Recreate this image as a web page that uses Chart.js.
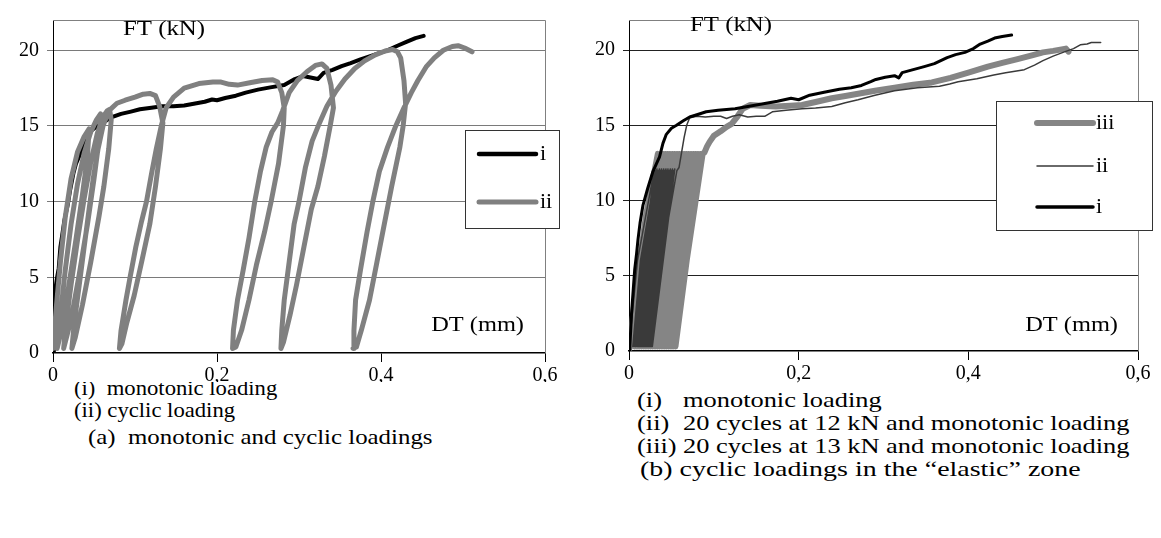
<!DOCTYPE html>
<html>
<head>
<meta charset="utf-8">
<title>FT-DT curves</title>
<script src="https://cdn.jsdelivr.net/npm/chart.js@4.4.1/dist/chart.umd.min.js"></script>
<style>
  body { margin: 0; background: #fff; }
  #page { position: relative; width: 1161px; height: 538px; overflow: hidden;
          font-family: "Liberation Serif", "Times New Roman", serif; color: #000; }
  #chartA, #chartB { position: absolute; top: 0; z-index: 2; }
  #chartA { left: 0; }
  #chartB { left: 580px; }
  .cap { position: absolute; z-index: 1; font-size: 22px; line-height: 22px; white-space: pre; transform-origin: 0 50%; }
  .wi { transform: scaleX(1.03); }
  .wa { transform: scaleX(1.13); }
  .wb { transform: scaleX(1.2); }
  .wt { transform: scaleX(1.27); }
</style>
</head>
<body>
<div id="page">
  <canvas id="chartA" width="580" height="382"></canvas>
  <canvas id="chartB" width="581" height="400"></canvas>

  <div class="cap wi" style="left:74px; top:377px">(i)  monotonic loading</div>
  <div class="cap wi" style="left:74px; top:399px">(ii) cyclic loading</div>
  <div class="cap wa" style="left:88px; top:426px">(a)  monotonic and cyclic loadings</div>

  <div class="cap wb" style="left:637px; top:389px">(i)</div>
  <div class="cap wb" style="left:683px; top:389px">monotonic loading</div>
  <div class="cap wb" style="left:637px; top:412px">(ii)</div>
  <div class="cap wb" style="left:683px; top:412px">20 cycles at 12 kN and monotonic loading</div>
  <div class="cap wb" style="left:637px; top:435px">(iii)</div>
  <div class="cap wb" style="left:683px; top:435px">20 cycles at 13 kN and monotonic loading</div>
  <div class="cap wt" style="left:640px; top:458px">(b) cyclic loadings in the “elastic” zone</div>
</div>

<script>
// tick labels (comma decimals)
const dtTicks = ['0', '0,2', '0,4', '0,6'];
const ftTicks = ['0', '5', '10', '15', '20'];

// (a) monotonic loading : [DT mm, FT kN]
const monoA = [
  [0, 0], [0.001, 1.5], [0.002, 3.9], [0.005, 5.0], [0.007, 5.6], [0.009, 7.0], [0.011, 7.7],
  [0.014, 8.8], [0.018, 9.8], [0.021, 10.8], [0.025, 11.9], [0.028, 12.5], [0.032, 13.0],
  [0.036, 13.6], [0.041, 14.1], [0.047, 14.7], [0.054, 15.0], [0.061, 15.2], [0.07, 15.55],
  [0.083, 15.8], [0.095, 15.95], [0.106, 16.1], [0.12, 16.2], [0.133, 16.3], [0.147, 16.3],
  [0.16, 16.35], [0.175, 16.5], [0.185, 16.6], [0.194, 16.75], [0.2, 16.7], [0.21, 16.85],
  [0.223, 17.0], [0.235, 17.2], [0.25, 17.4], [0.265, 17.55], [0.282, 17.7], [0.295, 18.1],
  [0.305, 18.3], [0.314, 18.2], [0.323, 18.1], [0.33, 18.5], [0.341, 18.7], [0.352, 18.95],
  [0.363, 19.15], [0.375, 19.4], [0.386, 19.6], [0.397, 19.8], [0.408, 20.0], [0.42, 20.3],
  [0.431, 20.55], [0.442, 20.8], [0.452, 20.95]
];

// (a) cyclic loading : [DT mm, FT kN]
const cyclicA = [
  [0, 0.3], [0.004, 3], [0.009, 6], [0.015, 9], [0.022, 11.5], [0.03, 13.3], [0.038, 14.3], [0.044, 14.8],
  [0.042, 13], [0.036, 10.5], [0.028, 7.5], [0.018, 4], [0.009, 1.2], [0.005, 0.3],
  [0.009, 2.5], [0.015, 5.5], [0.022, 8.5], [0.03, 11.2], [0.038, 13.2], [0.046, 14.6], [0.053, 15.4], [0.058, 15.8],
  [0.056, 14], [0.05, 11.5], [0.042, 8.5], [0.032, 5.2], [0.022, 2.2], [0.013, 0.3],
  [0.016, 2], [0.022, 4.5], [0.03, 7.5], [0.038, 10.2], [0.046, 12.6], [0.054, 14.5], [0.061, 15.6], [0.066, 16.0], [0.069, 16.1],
  [0.071, 15.4], [0.068, 13.5], [0.062, 11], [0.056, 9], [0.046, 6], [0.036, 3.2], [0.027, 1], [0.023, 0.3],
  [0.026, 2], [0.032, 4.5], [0.038, 7], [0.044, 9.5], [0.049, 11.5], [0.055, 13.5], [0.061, 15], [0.068, 16.0],
  [0.078, 16.5], [0.088, 16.7], [0.1, 16.9], [0.11, 17.1], [0.118, 17.15], [0.125, 17.0],
  [0.13, 16.3], [0.134, 15.2], [0.131, 13.5], [0.125, 11], [0.118, 8.5], [0.108, 6], [0.099, 3.8], [0.09, 2], [0.084, 0.6], [0.081, 0.3],
  [0.083, 1.5], [0.089, 3.5], [0.094, 5], [0.101, 7], [0.108, 8.7], [0.114, 10], [0.12, 11.8], [0.126, 13.5], [0.132, 15],
  [0.138, 16.2], [0.147, 16.9], [0.16, 17.5], [0.178, 17.8], [0.195, 17.9], [0.205, 17.9], [0.215, 17.75], [0.225, 17.7],
  [0.24, 17.85], [0.255, 18.0], [0.268, 18.05], [0.274, 17.9],
  [0.279, 17.2], [0.282, 16.2], [0.281, 15], [0.275, 12.5], [0.266, 10], [0.258, 8], [0.248, 5.8], [0.239, 3.5], [0.23, 1.5], [0.223, 0.4], [0.219, 0.3],
  [0.22, 1.5], [0.225, 3.5], [0.232, 5.5], [0.239, 7.6], [0.246, 10], [0.253, 12], [0.26, 13.6], [0.267, 14.6], [0.274, 15.2],
  [0.28, 16.0], [0.288, 17.2], [0.298, 18.0], [0.31, 18.6], [0.32, 19.0], [0.328, 19.1], [0.334, 18.8],
  [0.339, 17.7], [0.342, 16.2], [0.338, 15], [0.331, 13], [0.323, 11], [0.315, 9.5], [0.306, 7], [0.297, 4.5], [0.289, 2.5], [0.281, 0.7], [0.278, 0.3],
  [0.279, 1.5], [0.282, 3.5], [0.288, 6], [0.294, 8.5], [0.3, 10], [0.308, 12.3], [0.316, 14], [0.325, 15.2],
  [0.334, 16.3], [0.345, 17.3], [0.356, 18.1], [0.368, 18.8], [0.38, 19.3], [0.393, 19.7], [0.405, 19.95], [0.414, 20.05], [0.42, 19.9],
  [0.424, 19.5], [0.428, 18], [0.43, 16.5], [0.427, 15], [0.423, 13.6], [0.413, 11], [0.404, 8.5], [0.395, 6], [0.386, 3.5], [0.376, 1.5], [0.37, 0.4], [0.366, 0.3],
  [0.367, 1.5], [0.369, 3.5], [0.375, 5.5], [0.383, 8], [0.39, 10], [0.398, 12], [0.408, 13.6], [0.418, 15], [0.428, 16.2],
  [0.437, 17.2], [0.445, 18.0], [0.455, 18.9], [0.465, 19.5], [0.476, 20.0], [0.487, 20.25], [0.494, 20.3], [0.502, 20.15], [0.511, 19.9]
];

// (b) monotonic loading
const monoB = [
  [0, 0], [0.001, 0.3], [0.003, 2.5], [0.004, 3.3], [0.0067, 5.4], [0.009, 6.5], [0.0106, 7.4], [0.013, 8.5],
  [0.0165, 9.7], [0.022, 10.8], [0.028, 11.9], [0.036, 12.9], [0.04, 13.8], [0.044, 14.4], [0.05, 14.8],
  [0.056, 15.0], [0.064, 15.3], [0.0715, 15.55], [0.08, 15.7], [0.091, 15.9], [0.105, 16.0], [0.125, 16.1],
  [0.14, 16.25], [0.16, 16.45], [0.175, 16.6], [0.191, 16.8], [0.2, 16.7], [0.213, 17.0], [0.23, 17.2],
  [0.248, 17.4], [0.262, 17.5], [0.274, 17.65], [0.285, 17.9], [0.291, 18.05], [0.302, 18.2], [0.313, 18.3],
  [0.318, 18.15], [0.322, 18.5], [0.335, 18.7], [0.348, 18.9], [0.36, 19.1], [0.375, 19.5], [0.385, 19.7],
  [0.396, 19.85], [0.406, 20.1], [0.414, 20.4], [0.423, 20.6], [0.431, 20.8], [0.44, 20.9], [0.451, 21.0]
];

// (b) 20 cycles at 12 kN, then monotonic loading
const cycles12B = [
  [0, 0.2], [0.01, 6], [0.03, 12.1],
  [0.0045, 0.3], [0.0135, 6], [0.0316, 12],
  [0.006, 0.3], [0.015, 6], [0.033, 12.1],
  [0.0075, 0.3], [0.0165, 6], [0.0345, 12],
  [0.0085, 0.3], [0.0178, 6], [0.036, 12.1],
  [0.010, 0.3], [0.0192, 6], [0.0372, 12],
  [0.0112, 0.3], [0.0205, 6], [0.0385, 12.1],
  [0.0125, 0.3], [0.0218, 6], [0.0398, 12],
  [0.0138, 0.3], [0.0232, 6], [0.041, 12.1],
  [0.015, 0.3], [0.0245, 6], [0.0423, 12],
  [0.0162, 0.3], [0.0258, 6], [0.0436, 12.1],
  [0.0175, 0.3], [0.0272, 6], [0.0449, 12],
  [0.0188, 0.3], [0.0285, 6], [0.046, 12.1],
  [0.020, 0.3], [0.0298, 6], [0.0474, 12],
  [0.0212, 0.3], [0.0312, 6], [0.0488, 12.1],
  [0.0225, 0.3], [0.0325, 6], [0.050, 12],
  [0.0238, 0.3], [0.0338, 6], [0.0513, 12.1],
  [0.025, 0.3], [0.0352, 6], [0.0526, 12],
  [0.0262, 0.3], [0.0365, 6], [0.054, 12.1],
  [0.0275, 0.3], [0.0378, 6], [0.0565, 12],
  [0.059, 12.2], [0.062, 13.2], [0.065, 14.2], [0.068, 15.0], [0.0715, 15.5], [0.08, 15.6], [0.09, 15.55],
  [0.1, 15.6], [0.108, 15.6], [0.115, 15.45], [0.122, 15.6], [0.13, 15.7], [0.14, 15.55], [0.15, 15.6],
  [0.16, 15.6], [0.169, 15.9], [0.185, 16.0], [0.204, 16.1], [0.22, 16.15], [0.239, 16.25], [0.255, 16.5],
  [0.27, 16.7], [0.29, 17.0], [0.313, 17.3], [0.34, 17.5], [0.366, 17.6], [0.378, 17.75], [0.388, 17.9],
  [0.41, 18.1], [0.43, 18.35], [0.444, 18.5], [0.455, 18.6], [0.466, 18.7], [0.478, 19.0], [0.488, 19.3],
  [0.5, 19.6], [0.514, 19.9], [0.524, 20.1], [0.532, 20.35], [0.54, 20.4], [0.545, 20.5], [0.556, 20.5]
];

// (b) 20 cycles at 13 kN, then monotonic loading
const cycles13B = [
  [0, 0], [0.008, 4], [0.02, 9], [0.034, 13.1],
  [0.0068, 0.3], [0.019, 6], [0.0375, 13.1],
  [0.0095, 0.3], [0.0218, 6], [0.040, 13.1],
  [0.012, 0.3], [0.0245, 6], [0.0428, 13.1],
  [0.0148, 0.3], [0.0272, 6], [0.0455, 13.1],
  [0.0175, 0.3], [0.030, 6], [0.0482, 13.1],
  [0.020, 0.3], [0.0325, 6], [0.051, 13.1],
  [0.0228, 0.3], [0.0352, 6], [0.0537, 13.1],
  [0.0255, 0.3], [0.0378, 6], [0.0565, 13.1],
  [0.028, 0.3], [0.0405, 6], [0.0592, 13.1],
  [0.0308, 0.3], [0.0432, 6], [0.062, 13.1],
  [0.0335, 0.3], [0.046, 6], [0.0648, 13.1],
  [0.036, 0.3], [0.0488, 6], [0.0675, 13.1],
  [0.0388, 0.3], [0.0515, 6], [0.0702, 13.1],
  [0.0415, 0.3], [0.0542, 6], [0.073, 13.1],
  [0.044, 0.3], [0.057, 6], [0.0758, 13.1],
  [0.0468, 0.3], [0.0598, 6], [0.0785, 13.1],
  [0.0495, 0.3], [0.0625, 6], [0.0812, 13.1],
  [0.052, 0.3], [0.0652, 6], [0.084, 13.1],
  [0.0548, 0.3], [0.068, 6], [0.0868, 13.1],
  [0.089, 13.2], [0.092, 13.6], [0.095, 13.9], [0.1, 14.3], [0.108, 14.6], [0.115, 14.9], [0.121, 15.1],
  [0.128, 15.6], [0.134, 16.1], [0.143, 16.35], [0.155, 16.3], [0.173, 16.25], [0.19, 16.3], [0.204, 16.35],
  [0.22, 16.55], [0.239, 16.8], [0.255, 16.95], [0.27, 17.1], [0.29, 17.3], [0.313, 17.5], [0.335, 17.7],
  [0.357, 17.85], [0.368, 18.0], [0.379, 18.15], [0.4, 18.5], [0.423, 18.9], [0.44, 19.15], [0.458, 19.4],
  [0.475, 19.65], [0.488, 19.85], [0.5, 19.95], [0.51, 20.05], [0.515, 20.1], [0.518, 19.9]
];

const toXY = (arr) => arr.map(([x, y]) => ({ x, y }));

Chart.defaults.font.family = '"Liberation Serif", "Times New Roman", serif';
Chart.defaults.font.size = 20;
Chart.defaults.color = '#000';

// opaque white chart background
const paperPlugin = {
  id: 'paper',
  beforeDraw(chart) {
    const ctx = chart.ctx;
    ctx.save();
    ctx.fillStyle = '#fff';
    ctx.fillRect(0, 0, chart.width, chart.height);
    ctx.restore();
  }
};

// text drawn a little wider than the font's natural width
function wideText(ctx, text, x, y, sx, align) {
  ctx.save();
  ctx.translate(x, y);
  ctx.scale(sx, 1);
  ctx.textAlign = align;
  ctx.fillText(text, 0, 0);
  ctx.restore();
}

// frame, axis captions and the boxed legend drawn on top of the plot
const overlayPlugin = {
  id: 'overlay',
  afterDraw(chart, args, o) {
    const ctx = chart.ctx, a = chart.chartArea;
    ctx.save();
    ctx.strokeStyle = o.frameColor;
    ctx.lineWidth = 1;
    ctx.beginPath();
    ctx.moveTo(a.left, a.top + 0.5);
    ctx.lineTo(a.right + 0.5, a.top + 0.5);
    ctx.lineTo(a.right + 0.5, a.bottom);
    ctx.stroke();

    ctx.font = '20px "Liberation Serif"';
    ctx.fillStyle = '#000';
    ctx.textBaseline = 'middle';
    wideText(ctx, 'FT (kN)', o.ftPos[0], o.ftPos[1], 1.24, 'left');
    wideText(ctx, 'DT (mm)', o.dtPos[0], o.dtPos[1], 1.22, 'right');

    const b = o.box;
    ctx.fillStyle = '#fff';
    ctx.fillRect(b[0], b[1], b[2], b[3]);
    ctx.strokeStyle = '#333';
    ctx.strokeRect(b[0] + 0.5, b[1] + 0.5, b[2], b[3]);
    o.rows.forEach((r) => {
      const ds = chart.data.datasets[r.index];
      ctx.strokeStyle = ds.borderColor;
      ctx.lineWidth = r.width;
      ctx.lineCap = 'round';
      ctx.beginPath();
      ctx.moveTo(o.lineX[0], r.y);
      ctx.lineTo(o.lineX[1], r.y);
      ctx.stroke();
      ctx.fillStyle = '#000';
      wideText(ctx, ds.label, o.textX, r.y + 1, 1.1, 'left');
    });
    ctx.restore();
  }
};

function makeScales(yWidth, xHeight, gridColor) {
  return {
    x: {
      type: 'linear', min: 0, max: 0.6,
      afterFit: (s) => { s.height = xHeight; },
      border: { color: '#000', width: 1.5 },
      grid: { drawOnChartArea: false, tickLength: 9, color: '#000' },
      ticks: { stepSize: 0.2, padding: 2, maxRotation: 0, callback: (v, i) => dtTicks[i] }
    },
    y: {
      type: 'linear', min: 0, max: 22,
      afterFit: (s) => { s.width = yWidth; },
      border: { color: '#000', width: 1 },
      grid: {
        tickLength: 6,
        color: (c) => (c.tick && c.tick.value === 0 ? 'rgba(0,0,0,0)' : gridColor)
      },
      ticks: { stepSize: 5, includeBounds: false, padding: 8, callback: (v, i) => ftTicks[i] }
    }
  };
}

const lineStyle = { showLine: true, pointRadius: 0, borderCapStyle: 'round', borderJoinStyle: 'round', tension: 0 };

new Chart(document.getElementById('chartA'), {
  type: 'scatter',
  data: {
    datasets: [
      Object.assign({ label: 'i', data: toXY(monoA), borderColor: '#000', borderWidth: 4, order: 1 }, lineStyle),
      Object.assign({ label: 'ii', data: toXY(cyclicA), borderColor: '#808080', borderWidth: 5, order: 0 }, lineStyle)
    ]
  },
  options: {
    responsive: false, animation: false, events: [],
    layout: { padding: { top: 8, right: 35, left: 0, bottom: 0 } },
    scales: makeScales(53, 29, '#7a7a7a'),
    plugins: {
      legend: { display: false }, tooltip: { enabled: false },
      overlay: {
        frameColor: '#808080',
        ftPos: [123, 30], dtPos: [524, 326],
        box: [465, 130, 94, 98],
        lineX: [479, 536], textX: 540,
        rows: [{ index: 0, y: 154, width: 4.5 }, { index: 1, y: 202, width: 5 }]
      }
    }
  },
  plugins: [paperPlugin, overlayPlugin]
});

new Chart(document.getElementById('chartB'), {
  type: 'scatter',
  data: {
    datasets: [
      Object.assign({ label: 'i', data: toXY(monoB), borderColor: '#000', borderWidth: 3, order: 0 }, lineStyle),
      Object.assign({ label: 'ii', data: toXY(cycles12B), borderColor: '#3a3a3a', borderWidth: 1.5, order: 1 }, lineStyle),
      Object.assign({ label: 'iii', data: toXY(cycles13B), borderColor: '#858585', borderWidth: 6, order: 2 }, lineStyle)
    ]
  },
  options: {
    responsive: false, animation: false, events: [],
    layout: { padding: { top: 5, right: 23, left: 0, bottom: 0 } },
    scales: makeScales(49, 49, '#222'),
    plugins: {
      legend: { display: false }, tooltip: { enabled: false },
      overlay: {
        frameColor: '#808080',
        ftPos: [110, 26], dtPos: [538, 326],
        box: [416, 101, 156, 129],
        lineX: [457, 513], textX: 516,
        rows: [{ index: 2, y: 123, width: 6 }, { index: 1, y: 166, width: 1.5 }, { index: 0, y: 207, width: 3.5 }]
      }
    }
  },
  plugins: [overlayPlugin]
});
</script>
</body>
</html>
